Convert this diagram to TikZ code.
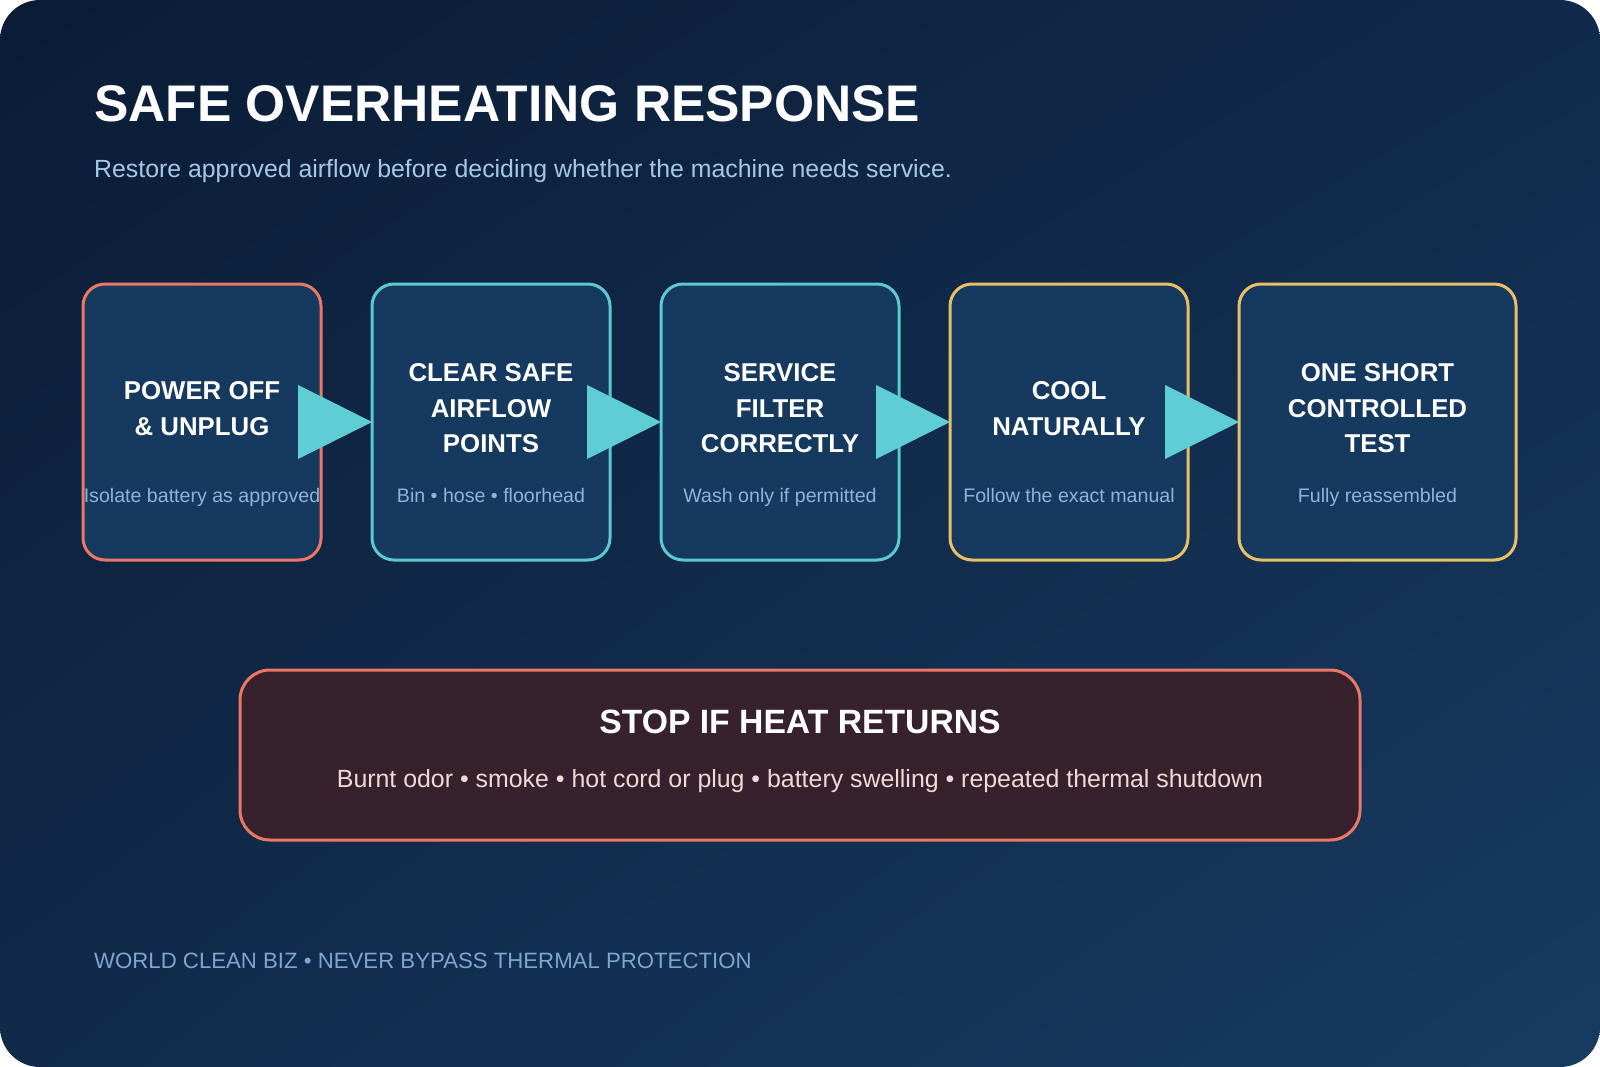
\documentclass[tikz,border=0pt]{standalone}
\usepackage{fontspec}
\setmainfont{Liberation Sans}
\usetikzlibrary{calc,shadings}
\definecolor{bgA}{HTML}{0B1C35}
\definecolor{bgB}{HTML}{112A4B}
\definecolor{bgC}{HTML}{173B61}
\definecolor{boxfill}{HTML}{15395F}
\definecolor{salmon}{HTML}{EC7766}
\definecolor{cyanb}{HTML}{5CC9D1}
\definecolor{gold}{HTML}{E9C065}
\definecolor{arrowc}{HTML}{5ECDD4}
\definecolor{subblue}{HTML}{A8C7E6}
\definecolor{boxsub}{HTML}{8DB4DD}
\definecolor{stopfill}{HTML}{36212D}
\definecolor{stoptext}{HTML}{F4D8D4}
\definecolor{footc}{HTML}{7FA6CF}
\begin{document}
\begin{tikzpicture}[x=1pt,y=-1pt,
  stepbox/.style={draw, line width=3pt, fill=boxfill, rounded corners=22pt,
    minimum height=276pt, minimum width=238pt, inner sep=0pt, outer sep=0pt},
  steptitle/.style={text=white, align=center, inner sep=0pt,
    font=\fontsize{25.8}{35.5}\selectfont\bfseries},
  stepsub/.style={text=boxsub, anchor=base, inner sep=0pt,
    font=\fontsize{19.6}{23}\selectfont},
  flowarrow/.style={fill=arrowc}]
\useasboundingbox (0,0) rectangle (1600,1067);
\fill[white] (0,0) rectangle (1600,1067);
\shade[rounded corners=40pt, upper left=bgA, upper right=bgB, lower left=bgB, lower right=bgC]
  (0,0) rectangle (1600,1067);

\node[anchor=base west, inner sep=0pt, text=white, font=\fontsize{51.5}{60}\selectfont\bfseries]
  (title) at (94,122) {SAFE OVERHEATING RESPONSE};
\node[anchor=base west, inner sep=0pt, text=subblue, font=\fontsize{24.85}{29}\selectfont]
  (subtitle) at (94,178) {Restore approved airflow before deciding whether the machine needs service.};

% boxes
\node[stepbox, draw=salmon] (b1) at (202,422) {};
\node[stepbox, draw=cyanb] (b2) at (491,422) {};
\node[stepbox, draw=cyanb] (b3) at (780,422) {};
\node[stepbox, draw=gold] (b4) at (1069,422) {};
\node[stepbox, draw=gold, minimum width=277pt] (b5) at (1377.5,422) {};

% arrows
\fill[flowarrow] ($(b1.east)+(-23,-37)$) -- (b2.west) -- ($(b1.east)+(-23,37)$) -- cycle;
\fill[flowarrow] ($(b2.east)+(-23,-37)$) -- (b3.west) -- ($(b2.east)+(-23,37)$) -- cycle;
\fill[flowarrow] ($(b3.east)+(-23,-37)$) -- (b4.west) -- ($(b3.east)+(-23,37)$) -- cycle;
\fill[flowarrow] ($(b4.east)+(-23,-37)$) -- (b5.west) -- ($(b4.east)+(-23,37)$) -- cycle;

% box texts
\node[steptitle] (t1) at (202,408.5) {POWER OFF\\\& UNPLUG};
\node[stepsub] (s1) at (202,502) {Isolate battery as approved};
\node[steptitle] (t2) at (491,408.5) {CLEAR SAFE\\AIRFLOW\\POINTS};
\node[stepsub] (s2) at (491,502) {Bin • hose • floorhead};
\node[steptitle] (t3) at (780,408.5) {SERVICE\\FILTER\\CORRECTLY};
\node[stepsub] (s3) at (780,502) {Wash only if permitted};
\node[steptitle] (t4) at (1069,408.5) {COOL\\NATURALLY};
\node[stepsub] (s4) at (1069,502) {Follow the exact manual};
\node[steptitle] (t5) at (1377.5,408.5) {ONE SHORT\\CONTROLLED\\TEST};
\node[stepsub] (s5) at (1377.5,502) {Fully reassembled};

% stop box
\node[draw=salmon, line width=3pt, fill=stopfill, rounded corners=30pt,
  minimum width=1120pt, minimum height=170pt, inner sep=0pt, outer sep=0pt] (stop) at (800,755) {};
\node[anchor=base, inner sep=0pt, text=white, font=\fontsize{33.7}{40}\selectfont\bfseries]
  (stoptitle) at (800,733) {STOP IF HEAT RETURNS};
\node[anchor=base, inner sep=0pt, text=stoptext, font=\fontsize{24.9}{29}\selectfont]
  (stopline) at (800,787) {Burnt odor • smoke • hot cord or plug • battery swelling • repeated thermal shutdown};

% footer
\node[anchor=base west, inner sep=0pt, text=footc, font=\fontsize{22.2}{26}\selectfont]
  (footer) at (94,968) {WORLD CLEAN BIZ • NEVER BYPASS THERMAL PROTECTION};
\end{tikzpicture}
\end{document}
